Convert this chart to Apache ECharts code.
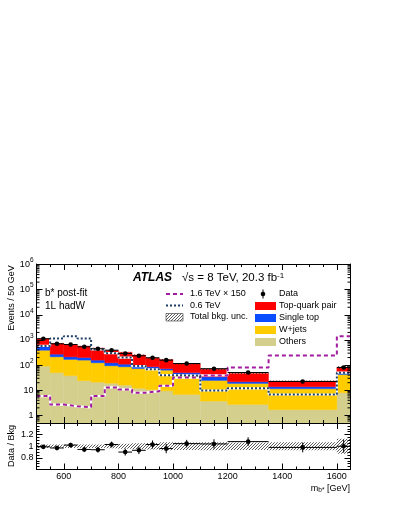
<!DOCTYPE html>
<html><head><meta charset="utf-8">
<script src="https://cdn.jsdelivr.net/npm/echarts@6/dist/echarts.min.js"></script>
<style>html,body{margin:0;padding:0;background:#fff}#c{width:399px;height:516px}</style>
</head><body><div id="c"></div>
<script>
// ---------------- data ----------------
const binEdges   = [500,550,600,650,700,750,800,850,900,950,1000,1100,1200,1350,1600,1650];
const others     = [91, 50, 38, 24, 21, 19, 16, 12, 10.5, 9.5, 6.8, 3.7, 2.7, 1.7, 8];
const wjets      = [299, 164, 130, 134, 103, 75, 70, 61, 61.5, 53.5, 34.2, 20.9, 16, 9.8, 34.5];
const singleTop  = [175, 58, 46, 42, 34, 30, 23, 21, 14, 9, 9, 9.9, 3.1, 2.3, 10];
const ttbar      = [561, 458, 436, 368, 317, 257, 213, 159, 104, 93, 61, 34.5, 25.2, 9, 28.5];
const dataVals   = [1115, 706, 660, 536, 447, 393, 290, 235, 196, 158, 116, 72, 51, 22.4, 81];
const sig1600x150= [5.9, 2.7, 2.3, 2.1, 5.9, 13, 10.8, 8.0, 9.2, 15, 32, 39, 80, 240, 1400];
const sig600     = [580, 1150, 1400, 1150, 420, 300, 200, 92, 68, 40, 38, 9.8, 12, 6.8, 50];
const ratioVals  = [0.99, 0.97, 1.02, 0.945, 0.94, 1.03, 0.90, 0.93, 1.03, 0.96, 1.045, 1.04, 1.08, 0.98, 1.0];
const ratioErr   = [0.03, 0.04, 0.04, 0.045, 0.05, 0.05, 0.06, 0.065, 0.07, 0.08, 0.065, 0.08, 0.075, 0.085, 0.11];
const bkgUnc     = [0.03, 0.03, 0.03, 0.03, 0.03, 0.035, 0.045, 0.05, 0.055, 0.07, 0.065, 0.07, 0.065, 0.07, 0.13];
const xMajorTicks = [600, 800, 1000, 1200, 1400, 1600];
const ratioLabels = [0.8, 1, 1.2];

// ---------------- helpers ----------------
const FONT = 'Liberation Sans';
const YMIN = 0.5, YMAX = 1.05e6;
const XMIN = 500, XMAX = 1650;
const nb = binEdges.length - 1;
const yMainMinor = [];
for (let n = -1; n <= 5; n++) for (let k = 2; k <= 9; k++) {
  const v = k * Math.pow(10, n);
  if (v > YMIN && v < YMAX) yMainMinor.push(+v.toPrecision(3));
}
const c1 = others.slice();
const c2 = c1.map((v, i) => v + wjets[i]);
const c3 = c2.map((v, i) => v + singleTop[i]);
const c4 = c3.map((v, i) => v + ttbar[i]);

function makeHatch() {
  const s = 3;
  const c = document.createElement('canvas'); c.width = s; c.height = s;
  const g = c.getContext('2d');
  g.strokeStyle = '#333'; g.lineWidth = 0.8;
  g.beginPath();
  g.moveTo(0, s); g.lineTo(s, 0);
  g.moveTo(-1, 1); g.lineTo(1, -1);
  g.moveTo(s - 1, s + 1); g.lineTo(s + 1, s - 1);
  g.stroke();
  return c;
}
const hatch = makeHatch();
const hatchFill = {image: hatch, repeat: 'repeat'};

function rectSeries(name, lo, hi, fill, xi, yi, z) {
  return {
    type: 'custom', name, xAxisIndex: xi, yAxisIndex: yi, clip: true, z,
    data: binEdges.slice(0, -1).map((e, i) => [e, binEdges[i + 1], lo[i], hi[i]]),
    encode: {x: [0, 1], y: [2, 3]},
    renderItem(params, api) {
      const a = api.coord([api.value(0), api.value(3)]);
      const b = api.coord([api.value(1), api.value(2)]);
      const solid = typeof fill === 'string';
      return {type: 'rect', shape: {x: a[0], y: a[1], width: b[0] - a[0], height: b[1] - a[1]},
        style: solid ? {fill, stroke: fill, lineWidth: 0.4} : {fill}};
    }
  };
}
function pointSeries(name, vals, errs, xi, yi, z) {
  return {
    type: 'custom', name, xAxisIndex: xi, yAxisIndex: yi, clip: true, z,
    data: vals.map((v, i) => [(binEdges[i] + binEdges[i + 1]) / 2, binEdges[i], binEdges[i + 1], v, v - errs[i], v + errs[i]]),
    encode: {x: 0, y: 3},
    renderItem(params, api) {
      const c = api.coord([api.value(0), api.value(3)]);
      const l = api.coord([api.value(1), api.value(3)]);
      const r = api.coord([api.value(2), api.value(3)]);
      const d = api.coord([api.value(0), api.value(4)]);
      const u = api.coord([api.value(0), api.value(5)]);
      return {type: 'group', children: [
        {type: 'line', shape: {x1: l[0], y1: c[1], x2: r[0], y2: c[1]}, style: {stroke: '#000', lineWidth: 1}},
        {type: 'line', shape: {x1: c[0], y1: d[1], x2: c[0], y2: u[1]}, style: {stroke: '#000', lineWidth: 1}},
        {type: 'circle', shape: {cx: c[0], cy: c[1], r: 2.3}, style: {fill: '#000'}}
      ]};
    }
  };
}
// minor log ticks on left/right frame of main panel, positioned through the log axis
function minorLogTicks() {
  return {
    type: 'custom', xAxisIndex: 0, yAxisIndex: 0, clip: false, z: 20, silent: true,
    data: yMainMinor.map(v => [XMIN, XMAX, v]),
    encode: {y: 2},
    renderItem(params, api) {
      const a = api.coord([api.value(0), api.value(2)]);
      const b = api.coord([api.value(1), api.value(2)]);
      return {type: 'group', children: [
        {type: 'line', shape: {x1: a[0], y1: a[1], x2: a[0] + 3, y2: a[1]}, style: {stroke: '#000', lineWidth: 1}},
        {type: 'line', shape: {x1: b[0], y1: b[1], x2: b[0] - 3, y2: b[1]}, style: {stroke: '#000', lineWidth: 1}}
      ]};
    }
  };
}
function stepData(vals) { return binEdges.map((e, i) => [e, vals[Math.min(i, nb - 1)]]); }
function stepSeries(vals, color, dash, width, z) {
  return {type: 'line', xAxisIndex: 0, yAxisIndex: 0, step: 'end', symbol: 'none', clip: true, z,
    silent: true, data: stepData(vals), lineStyle: {color, width, type: dash}};
}

const base = {z: 10, splitLine: {show: false}, axisLine: {show: true, onZero: false, lineStyle: {color: '#000', width: 1}}};
function xAx(grid, pos, major, labels) {
  const o = Object.assign({}, base, {type: 'value', gridIndex: grid, position: pos, min: XMIN, max: XMAX,
    axisLabel: {show: false}});
  if (major) {
    o.axisTick = {show: true, inside: true, length: 6, customValues: xMajorTicks, lineStyle: {color: '#000'}};
    if (labels) o.axisLabel = {show: true, customValues: xMajorTicks, margin: 3, fontFamily: FONT, fontSize: 9, color: '#000',
      formatter: v => String(v)};
  } else {
    o.interval = 50;
    o.axisTick = {show: true, inside: true, length: 3, lineStyle: {color: '#000'}};
  }
  return o;
}
function supFmt(v) {
  const l = Math.log10(v), r = Math.round(l);
  if (Math.abs(l - r) > 1e-6) return '';
  if (r === 0) return '{b|1}';
  if (r === 1) return '{b|10}';
  return '{b|10}{s|' + r + '}';
}
const supRich = {
  b: {fontFamily: FONT, fontSize: 9, lineHeight: 15, color: '#000'},
  s: {fontFamily: FONT, fontSize: 6.5, lineHeight: 8, verticalAlign: 'top', color: '#000'}
};
function yLog(pos, labels) {
  const o = Object.assign({}, base, {type: 'log', gridIndex: 0, position: pos, min: YMIN, max: YMAX, logBase: 10,
    axisLabel: {show: false},
    axisTick: {show: true, inside: true, length: 6, lineStyle: {color: '#000'}}});
  if (labels) o.axisLabel = {show: true, margin: 3, formatter: supFmt, rich: supRich, showMinLabel: true, showMaxLabel: true};
  return o;
}
function yRatio(pos, labels) {
  return Object.assign({}, base, {type: 'value', gridIndex: 1, position: pos, min: 0.6, max: 1.4, interval: 0.2,
    axisTick: {show: true, inside: true, length: 6, lineStyle: {color: '#000'}},
    minorTick: {show: true, splitNumber: 4, length: 3, lineStyle: {color: '#000'}},
    axisLabel: labels ? {show: true, margin: 3, fontFamily: FONT, fontSize: 9, color: '#000',
      formatter: v => ratioLabels.some(t => Math.abs(t - v) < 1e-6) ? String(+v.toFixed(1)) : ''} : {show: false}});
}

// ---------------- legend / text graphics ----------------
const T = (x, y, text, size, extra) => Object.assign({type: 'text', x, y, z: 100,
  style: Object.assign({text, fontFamily: FONT, fontSize: size, fill: '#000', align: 'left', verticalAlign: 'middle'}, extra || {})});
const yTitle = T(12, 298, 'Events / 50 GeV', 9, {align: 'center'}); yTitle.rotation = Math.PI / 2;
const rTitle = T(12, 446, 'Data / Bkg', 9, {align: 'center'}); rTitle.rotation = Math.PI / 2;
const graphics = [
  T(133, 278, 'ATLAS', 12, {fontWeight: 'bold', fontStyle: 'italic'}),
  T(182, 278, '√s = 8 TeV, 20.3 fb{s|-1}', 11.5, {rich: {
    s: {fontFamily: FONT, fontSize: 8, lineHeight: 8, verticalAlign: 'top', fill: '#000'}}}),
  T(45, 293, 'b* post-fit', 10),
  T(45, 306, '1L hadW', 10),
  {type: 'line', z: 100, shape: {x1: 166, y1: 294, x2: 183, y2: 294}, style: {stroke: '#a21ca0', lineWidth: 2, lineDash: [4, 3]}},
  T(190, 294, '1.6 TeV × 150', 9),
  {type: 'line', z: 100, shape: {x1: 166, y1: 305.5, x2: 183, y2: 305.5}, style: {stroke: '#1d3e66', lineWidth: 2, lineDash: [2, 2]}},
  T(190, 305.5, '0.6 TeV', 9),
  {type: 'rect', z: 100, shape: {x: 166, y: 313.5, width: 17, height: 7.5}, style: {fill: hatchFill, stroke: '#333', lineWidth: 0.6}},
  T(190, 317, 'Total bkg. unc.', 9),
  {type: 'line', z: 100, shape: {x1: 263, y1: 289.5, x2: 263, y2: 298.5}, style: {stroke: '#000', lineWidth: 1}},
  {type: 'circle', z: 100, shape: {cx: 263, cy: 294, r: 2.3}, style: {fill: '#000'}},
  T(279, 294, 'Data', 9),
  {type: 'rect', z: 100, shape: {x: 255, y: 302, width: 21, height: 8}, style: {fill: '#ff0000'}},
  T(279, 306, 'Top-quark pair', 9),
  {type: 'rect', z: 100, shape: {x: 255, y: 314, width: 21, height: 8}, style: {fill: '#0a4cff'}},
  T(279, 318, 'Single top', 9),
  {type: 'rect', z: 100, shape: {x: 255, y: 326, width: 21, height: 8}, style: {fill: '#ffcc00'}},
  T(279, 330, 'W+jets', 9),
  {type: 'rect', z: 100, shape: {x: 255, y: 338, width: 21, height: 8}, style: {fill: '#d4cf8d'}},
  T(279, 342, 'Others', 9),
  yTitle, rTitle,
  T(350, 489, 'm{sub|b*} [GeV]', 9, {align: 'right', rich: {
    sub: {fontFamily: FONT, fontSize: 6.5, lineHeight: 8, verticalAlign: 'bottom', fill: '#000'}}})
];

// ---------------- chart ----------------
const chart = echarts.init(document.getElementById('c'));
const option = {
  animation: false,
  backgroundColor: '#fff',
  grid: [
    {left: 36.5, top: 264, width: 314, height: 159},
    {left: 36.5, top: 423, width: 314, height: 46.5}
  ],
  xAxis: [
    xAx(0, 'bottom', false), xAx(0, 'bottom', true), xAx(0, 'top', false), xAx(0, 'top', true),
    xAx(1, 'bottom', false), xAx(1, 'bottom', true, true), xAx(1, 'top', false), xAx(1, 'top', true)
  ],
  yAxis: [
    yLog('left', true), yLog('right', false),
    yRatio('left', true), yRatio('right', false)
  ],
  series: [
    rectSeries('Others', binEdges.map(() => YMIN), c1, '#d4cf8d', 0, 0, 2),
    rectSeries('W+jets', c1, c2, '#ffcc00', 0, 0, 2),
    rectSeries('Single top', c2, c3, '#0a4cff', 0, 0, 2),
    rectSeries('Top-quark pair', c3, c4, '#ff0000', 0, 0, 2),
    rectSeries('Total bkg. unc.', c4.map((v, i) => v * (1 - bkgUnc[i])), c4.map((v, i) => v * (1 + bkgUnc[i])), hatchFill, 0, 0, 3),
    stepSeries(sig1600x150, '#ffffff', 'solid', 2.2, 4),
    stepSeries(sig1600x150, '#a21ca0', [4, 3], 2, 5),
    stepSeries(sig600, '#ffffff', 'solid', 2.2, 4),
    stepSeries(sig600, '#1d3e66', [2, 2], 2, 5),
    pointSeries('Data', dataVals, dataVals.map((v, i) => v * ratioErr[i]), 0, 0, 6),
    rectSeries('Ratio unc.', bkgUnc.map(u => 1 - u), bkgUnc.map(u => 1 + u), hatchFill, 4, 2, 3),
    pointSeries('Ratio', ratioVals, ratioErr, 4, 2, 6),
    minorLogTicks()
  ],
  graphic: graphics
};
chart.setOption(option);
</script>
</body></html>
